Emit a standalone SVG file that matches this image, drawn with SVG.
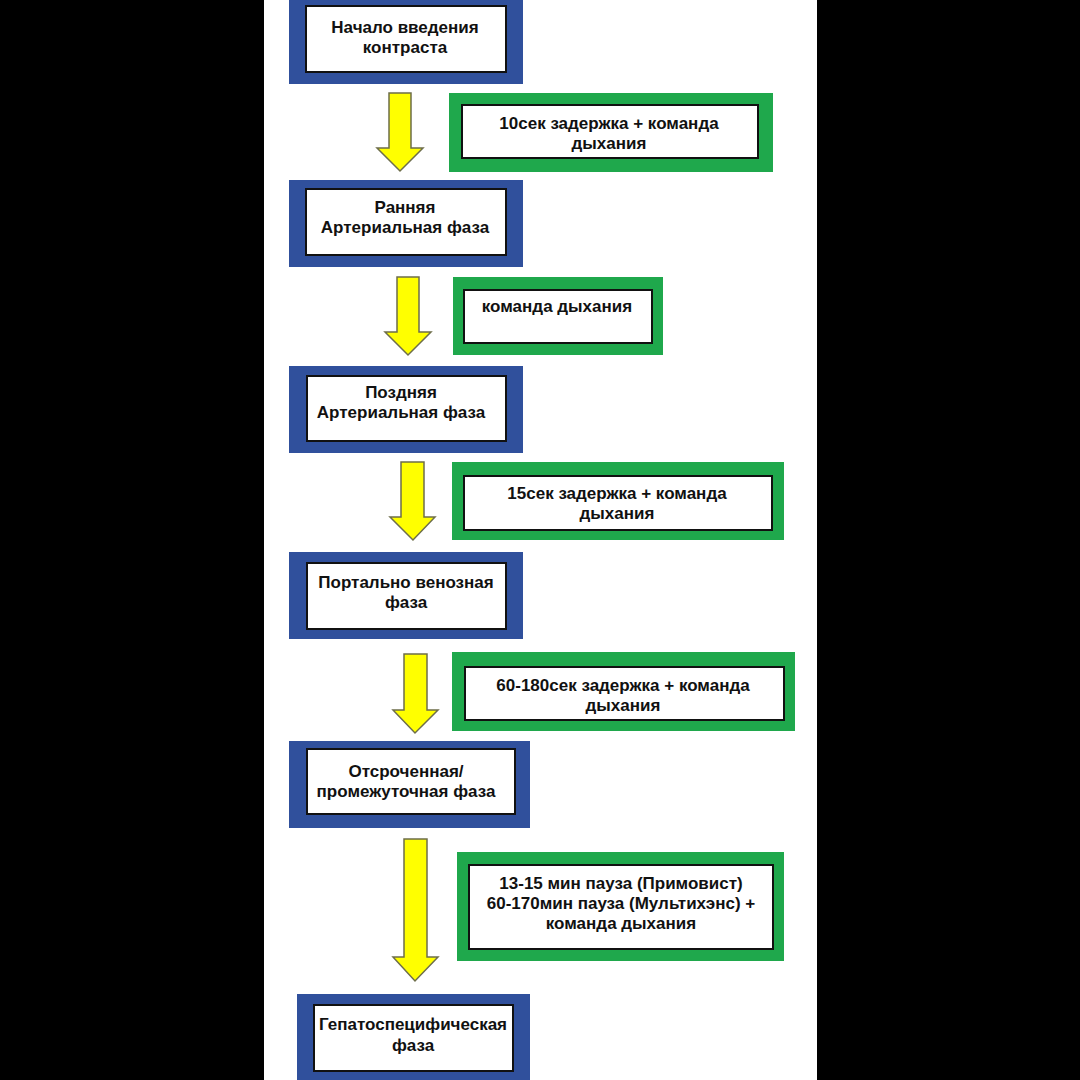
<svg xmlns="http://www.w3.org/2000/svg" width="1080" height="1080" viewBox="0 0 1080 1080">
<style>
.bg{fill:#000}
.page{fill:#fff}
.blue{fill:#30509c}
.green{fill:#1fa84c}
.inner{fill:#fff;stroke:#111;stroke-width:2}
.arrow{fill:#ffff00;stroke:#6e6e4a;stroke-width:1.5;stroke-linejoin:miter}
text{font-family:"Liberation Sans",Arial,Helvetica,sans-serif;font-weight:bold;font-size:17px;fill:#111;text-anchor:middle}
</style>
<rect class="bg" x="0" y="0" width="1080" height="1080"/>
<rect class="page" x="264" y="0" width="553" height="1080"/>

<g id="connectors">
<path class="arrow" d="M389,93 H411 V148 H423 L400,171 L377,148 H389 Z"/>
<path class="arrow" d="M397,277 H419 V332 H431 L408,355 L385,332 H397 Z"/>
<path class="arrow" d="M401,462 H424 V517 H435 L413,540 L390,517 H401 Z"/>
<path class="arrow" d="M404,654 H427 V710 H438 L415,733 L393,710 H404 Z"/>
<path class="arrow" d="M404,839 H427 V957 H438 L415,981 L393,957 H404 Z"/>
</g>

<g id="node-start">
<rect class="blue" x="289" y="0" width="234" height="84"/>
<rect class="inner" x="306" y="6" width="200" height="66"/>
<text x="405" y="33">Начало введения</text>
<text x="405" y="53">контраста</text>
</g>

<g id="note-1">
<rect class="green" x="449" y="93" width="324" height="79"/>
<rect class="inner" x="462" y="105" width="296" height="53"/>
<text x="609" y="129">10сек задержка + команда</text>
<text x="609" y="149">дыхания</text>
</g>

<g id="node-early-arterial">
<rect class="blue" x="289" y="180" width="234" height="87"/>
<rect class="inner" x="306" y="189" width="200" height="66"/>
<text x="405" y="213">Ранняя</text>
<text x="405" y="233">Артериальная фаза</text>
</g>

<g id="note-2">
<rect class="green" x="453" y="277" width="210" height="78"/>
<rect class="inner" x="464" y="290" width="188" height="53"/>
<text x="557" y="312">команда дыхания</text>
</g>

<g id="node-late-arterial">
<rect class="blue" x="289" y="366" width="234" height="87"/>
<rect class="inner" x="307" y="376" width="199" height="65"/>
<text x="401" y="398">Поздняя</text>
<text x="401" y="418">Артериальная фаза</text>
</g>

<g id="note-3">
<rect class="green" x="452" y="462" width="332" height="78"/>
<rect class="inner" x="464" y="476" width="308" height="54"/>
<text x="617" y="499">15сек задержка + команда</text>
<text x="617" y="519">дыхания</text>
</g>

<g id="node-portal-venous">
<rect class="blue" x="289" y="552" width="234" height="87"/>
<rect class="inner" x="307" y="563" width="199" height="66"/>
<text x="406" y="588">Портально венозная</text>
<text x="406" y="608">фаза</text>
</g>

<g id="note-4">
<rect class="green" x="452" y="652" width="343" height="79"/>
<rect class="inner" x="465" y="667" width="319" height="53"/>
<text x="623" y="691">60-180сек задержка + команда</text>
<text x="623" y="711">дыхания</text>
</g>

<g id="node-delayed">
<rect class="blue" x="289" y="741" width="241" height="87"/>
<rect class="inner" x="307" y="749" width="208" height="65"/>
<text x="406" y="777">Отсроченная/</text>
<text x="406" y="797">промежуточная фаза</text>
</g>

<g id="note-5">
<rect class="green" x="457" y="852" width="327" height="109"/>
<rect class="inner" x="469" y="865" width="304" height="84"/>
<text x="621" y="889">13-15 мин пауза (Примовист)</text>
<text x="621" y="909">60-170мин пауза (Мультихэнс) +</text>
<text x="621" y="929">команда дыхания</text>
</g>

<g id="node-hepatospecific">
<rect class="blue" x="297" y="994" width="233" height="90"/>
<rect class="inner" x="314" y="1005" width="199" height="66"/>
<text x="413" y="1030">Гепатоспецифическая</text>
<text x="413" y="1051">фаза</text>
</g>
</svg>
